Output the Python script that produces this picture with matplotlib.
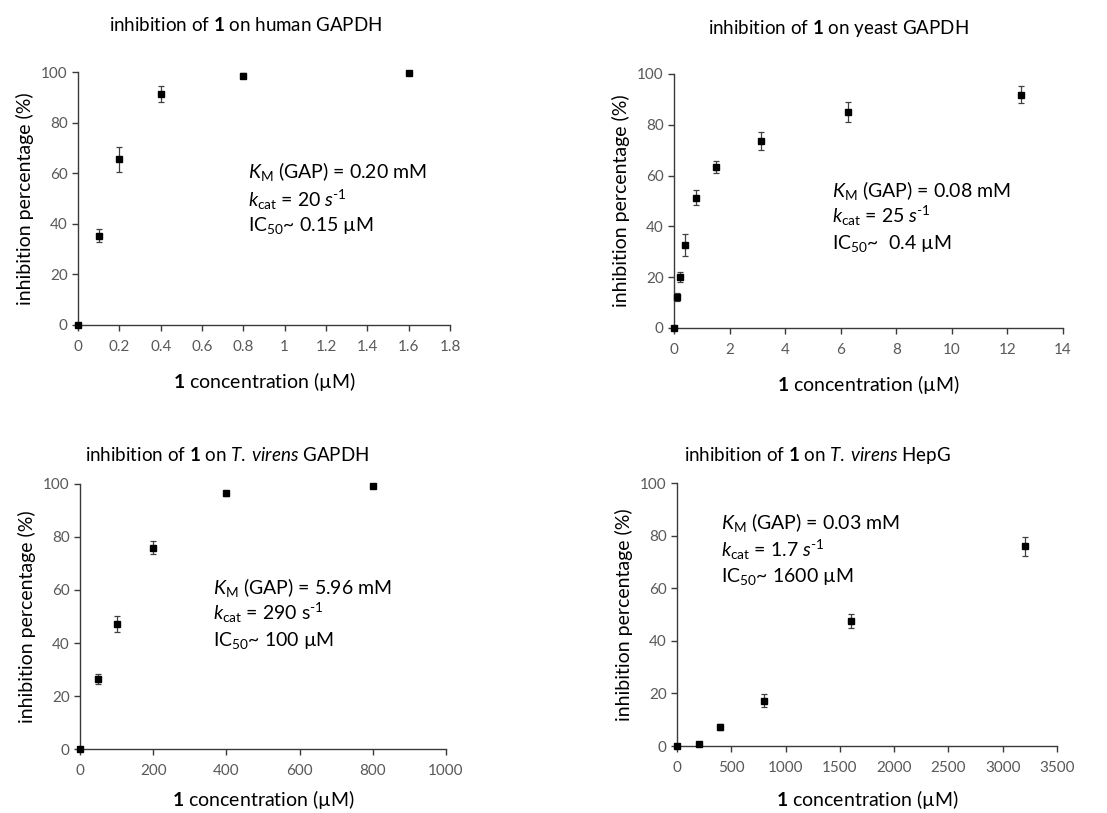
import matplotlib
matplotlib.use("Agg")
import matplotlib.pyplot as plt
from matplotlib.ticker import FuncFormatter

plt.rcParams['font.family'] = ['Lato', 'DejaVu Sans']
plt.rcParams['mathtext.fontset'] = 'custom'
plt.rcParams['mathtext.rm'] = 'Lato'
plt.rcParams['mathtext.it'] = 'Lato:italic'
plt.rcParams['mathtext.bf'] = 'Lato:bold'

# data
human_x = [0, 0.1, 0.2, 0.4, 0.8, 1.6]
human_y = [0, 35.3, 65.5, 91.4, 98.5, 99.5]
human_err = [0, 2.5, 5.0, 3.3, 1.0, 0.6]

yeast_x = [0, 0.1, 0.2, 0.4, 0.8, 1.5, 3.125, 6.25, 12.5]
yeast_y = [0, 12.3, 20.0, 32.5, 51.3, 63.4, 73.5, 85.0, 91.9]
yeast_err = [0, 1.5, 2.0, 4.3, 3.0, 2.5, 3.5, 4.0, 3.2]

tv_x = [0, 50, 100, 200, 400, 800]
tv_y = [0, 26.4, 47.2, 75.9, 96.5, 99.2]
tv_err = [0, 2.0, 3.0, 2.5, 1.0, 0.6]

hepg_x = [0, 200, 400, 800, 1600, 3200]
hepg_y = [0, 0.9, 7.2, 17.2, 47.5, 75.9]
hepg_err = [0, 0.6, 1.0, 2.5, 2.7, 3.5]

sup = r"$^{\text{-1}}$"

panels = [
    dict(x=human_x, y=human_y, err=human_err, xmax=1.8, xstep=0.2,
         title=r"inhibition of $\mathbf{1}$ on human GAPDH",
         rect=[0.0705, 0.6003, 0.336, 0.311], title_xy=(0.222, 0.969),
         notes=[r"$K_{\rm M}$ (GAP) = 0.20 mM", r"$k_{\rm cat}$ = 20 $s$" + sup, r"IC$_{\rm 50}$~ 0.15 µM"],
         note_xy=(0.457, [0.605, 0.494, 0.395]), xlpad=11),
    dict(x=yeast_x, y=yeast_y, err=yeast_err, xmax=14, xstep=2,
         title=r"inhibition of $\mathbf{1}$ on yeast GAPDH",
         rect=[0.6089, 0.5966, 0.3514, 0.3124], title_xy=(0.757, 0.965),
         notes=[r"$K_{\rm M}$ (GAP) = 0.08 mM", r"$k_{\rm cat}$ = 25 $s$" + sup, r"IC$_{\rm 50}$~  0.4 µM"],
         note_xy=(0.406, [0.543, 0.441, 0.331]), xlpad=11),
    dict(x=tv_x, y=tv_y, err=tv_err, xmax=1000, xstep=200,
         title=r"inhibition of $\mathbf{1}$ on $\it{T.\:virens}$ GAPDH",
         rect=[0.0723, 0.0787, 0.3306, 0.326], title_xy=(0.205, 0.440),
         notes=[r"$K_{\rm M}$ (GAP) = 5.96 mM", r"$k_{\rm cat}$ = 290 s" + sup, r"IC$_{\rm 50}$~ 100 µM"],
         note_xy=(0.363, [0.611, 0.513, 0.411]), xlpad=7),
    dict(x=hepg_x, y=hepg_y, err=hepg_err, xmax=3500, xstep=500,
         title=r"inhibition of $\mathbf{1}$ on $\it{T.\:virens}$ HepG",
         rect=[0.6116, 0.0824, 0.3433, 0.3235], title_xy=(0.738, 0.440),
         notes=[r"$K_{\rm M}$ (GAP) = 0.03 mM", r"$k_{\rm cat}$ = 1.7 $s$" + sup, r"IC$_{\rm 50}$~ 1600 µM"],
         note_xy=(0.116, [0.848, 0.745, 0.643]), xlpad=9),
]

fig = plt.figure(figsize=(11.07, 8.13), dpi=100)

for p in panels:
    ax = fig.add_axes(p['rect'])
    ax.errorbar(p['x'], p['y'], yerr=p['err'], fmt='s', color='black', ms=5,
                ecolor='#404040', elinewidth=0.9, capsize=2.5, capthick=0.9,
                clip_on=False, zorder=3)
    ax.set_xlim(0, p['xmax'])
    ax.set_ylim(0, 100)
    n = int(round(p['xmax'] / p['xstep']))
    ax.set_xticks([i * p['xstep'] for i in range(n + 1)])
    ax.set_yticks(range(0, 101, 20))
    ax.xaxis.set_major_formatter(FuncFormatter(lambda v, pos: f"{v:g}"))
    for s in ['top', 'right']:
        ax.spines[s].set_visible(False)
    for s in ['left', 'bottom']:
        ax.spines[s].set_color('#3a3a3a')
        ax.spines[s].set_linewidth(1.0)
    ax.tick_params(direction='out', length=4, width=1.0, color='#3a3a3a',
                   labelsize=11, labelcolor='#595959')
    ax.tick_params(axis='x', pad=7)
    ax.set_ylabel("inhibition percentage (%)", fontsize=14, labelpad=5)
    ax.set_xlabel(r"$\mathbf{1}$ concentration (µM)", fontsize=14, labelpad=p['xlpad'])
    fig.text(p['title_xy'][0], p['title_xy'][1], p['title'], fontsize=13.5,
             ha='center', va='center')
    nx, nys = p['note_xy']
    for t, ny in zip(p['notes'], nys):
        ax.text(nx, ny, t, transform=ax.transAxes, fontsize=14,
                ha='left', va='center')

fig.savefig("out.png", dpi=100)
